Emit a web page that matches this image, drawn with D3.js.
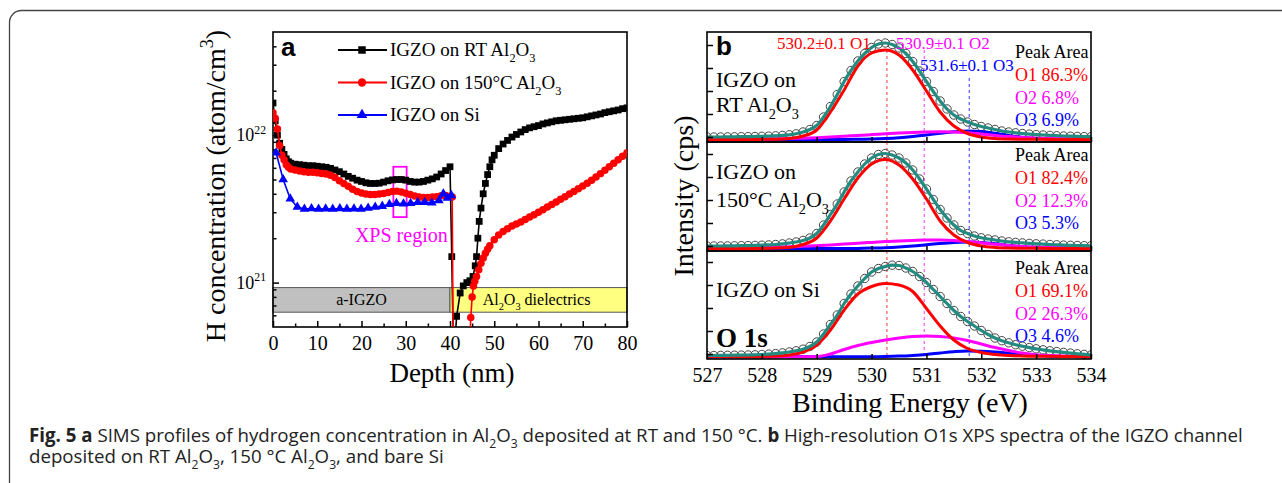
<!DOCTYPE html>
<html><head><meta charset="utf-8">
<script src="https://cdn.jsdelivr.net/npm/d3@7"></script>
<style>body{margin:0;background:#fff}svg{display:block}</style>
</head><body>
<svg id="c" width="1282" height="483"></svg>
<script>
// ================= DATA =================
// Panel a: SIMS hydrogen depth profiles
const depthRT = [0,0.5,1,1.5,2,2.5,3,3.5,4,5,6,7,8,9,10,11,12,13,14,15,16,17,18,19,20,21,22,23,24,25,26,27,28,29,30,31,32,33,34,35,36,37,38,39,40,40.4,40.8,41.5,42.3,43,43.8,44.5,45.2,45.7,46,46.3,46.6,47,47.5,48,48.5,49,49.5,50,51,52,53,54,55,56,57,58,59,60,61,62,63,64,65,66,67,68,69,70,71,72,73,74,75,76,77,78,79,80];
const concRT = [1.65e22,1.25e22,1.0e22,8.8e21,8.0e21,7.4e21,6.9e21,6.6e21,6.45e21,6.35e21,6.3e21,6.25e21,6.2e21,6.2e21,6.15e21,6.1e21,6.05e21,5.95e21,5.8e21,5.65e21,5.45e21,5.25e21,5.1e21,4.95e21,4.85e21,4.75e21,4.7e21,4.7e21,4.72e21,4.8e21,4.9e21,4.97e21,5.0e21,5.0e21,4.95e21,4.85e21,4.8e21,4.8e21,4.85e21,4.95e21,5.05e21,5.2e21,5.45e21,5.75e21,6.1e21,1.5e21,3.0e20,5.9e20,8.5e20,9.5e20,1.0e21,1.03e21,1.1e21,1.3e21,1.5e21,2.0e21,2.6e21,3.2e21,4.0e21,4.7e21,5.4e21,6.1e21,6.8e21,7.3e21,8.1e21,8.7e21,9.2e21,9.7e21,1.01e22,1.05e22,1.09e22,1.12e22,1.14e22,1.16e22,1.19e22,1.21e22,1.23e22,1.25e22,1.26e22,1.27e22,1.28e22,1.29e22,1.30e22,1.31e22,1.33e22,1.35e22,1.37e22,1.39e22,1.42e22,1.44e22,1.46e22,1.48e22,1.51e22,1.53e22];

const depth150 = [0,0.5,1,1.5,2,2.5,3,3.5,4,5,6,7,8,9,10,11,12,13,14,15,16,17,18,19,20,21,22,23,24,25,26,27,28,29,30,31,32,33,34,35,36,37,38,39,40,40.5,40.7,44.3,44.7,45,45.3,45.6,46,46.5,47,47.5,48,48.5,49,50,51,52,53,54,55,56,57,58,59,60,61,62,63,64,65,66,67,68,69,70,71,72,73,74,75,76,77,78,79,80];
const conc150 = [1.42e22,1.3e22,1.1e22,8.5e21,7.3e21,6.8e21,6.3e21,6.05e21,5.9e21,5.8e21,5.7e21,5.65e21,5.6e21,5.6e21,5.55e21,5.5e21,5.45e21,5.35e21,5.15e21,4.9e21,4.7e21,4.5e21,4.3e21,4.15e21,4.05e21,3.98e21,3.95e21,3.95e21,3.98e21,4.02e21,4.08e21,4.15e21,4.17e21,4.12e21,4.03e21,3.95e21,3.87e21,3.8e21,3.78e21,3.78e21,3.8e21,3.82e21,3.88e21,3.9e21,3.85e21,3.8e21,4.0e20,3.0e20,5.8e20,8.0e20,9.5e20,1.02e21,1.1e21,1.22e21,1.35e21,1.47e21,1.58e21,1.68e21,1.78e21,1.95e21,2.1e21,2.22e21,2.32e21,2.42e21,2.5e21,2.58e21,2.68e21,2.78e21,2.88e21,3.0e21,3.12e21,3.25e21,3.38e21,3.52e21,3.67e21,3.82e21,3.98e21,4.15e21,4.33e21,4.52e21,4.72e21,4.95e21,5.2e21,5.48e21,5.78e21,6.1e21,6.45e21,6.8e21,7.2e21,7.6e21];

const depthSi = [0.7,2.3,3.9,5.5,7.1,8.7,10.3,11.9,13.5,15.1,16.7,18.3,19.9,21.5,23.1,24.7,26.3,27.9,29.5,31.1,32.7,34.3,35.9,37.5,38.5,39.4,40.3];
const concSi = [7.6e21,5.0e21,3.7e21,3.25e21,3.15e21,3.18e21,3.15e21,3.17e21,3.15e21,3.18e21,3.15e21,3.17e21,3.15e21,3.2e21,3.25e21,3.3e21,3.4e21,3.45e21,3.42e21,3.45e21,3.5e21,3.5e21,3.48e21,3.6e21,4.0e21,3.75e21,3.9e21];

const seriesNamesA = ["IGZO on RT Al_2O_3","IGZO on 150°C Al_2O_3","IGZO on Si"];
const xTicksA = [0,10,20,30,40,50,60,70,80];
const xMinorA = [5,15,25,35,45,55,65,75];
const yTicksA = [1e21,1e22];
const yTickLabelsA = ["10^{21}","10^{22}"];
const yMinorA = [6e20,7e20,8e20,9e20,2e21,3e21,4e21,5e21,6e21,7e21,8e21,9e21,2e22,3e22,4e22];
const bandLabels = ["a-IGZO","Al_2O_3 dielectrics"];
const bandStart = [0,40];
const bandEnd = [40,80];
const bandConc = [6.3e20,9.25e20];
const xpsRegionDepth = [27.2,30.2];
const xpsRegionConc = [2.78e21,6.1e21];
const xpsRegionLabel = "XPS region";

// Panel b: O 1s XPS spectra (3 samples)
const energyData = [527,527.125,527.25,527.375,527.5,527.625,527.75,527.875,528,528.125,528.25,528.375,528.5,528.625,528.75,528.875,529,529.125,529.25,529.375,529.5,529.625,529.75,529.875,530,530.125,530.25,530.375,530.5,530.625,530.75,530.875,531,531.125,531.25,531.375,531.5,531.625,531.75,531.875,532,532.125,532.25,532.375,532.5,532.625,532.75,532.875,533,533.125,533.25,533.375,533.5,533.625,533.75,533.875,534];
const intensRT = [5.0,5.0,5.0,5.1,5.2,5.3,5.4,5.5,5.7,5.9,6.2,6.6,7.2,8.2,10.0,12.5,16.5,25.0,35.5,47.5,60.5,71.5,81.0,88.5,94.5,98.0,99.0,97.5,94.0,88.5,80.5,71.0,60.5,50.5,41.0,33.0,27.0,23.0,20.0,17.5,15.5,14.0,12.5,11.0,10.0,9.2,8.5,7.9,7.4,7.0,6.6,6.3,6.0,5.8,5.6,5.4,5.3];
const intens150 = [5.0,5.0,5.0,5.1,5.2,5.3,5.4,5.6,5.8,6.1,6.5,7.1,8.0,9.0,10.5,13.0,17.5,26.0,36.5,47.0,59.0,70.0,79.0,87.0,93.0,96.5,97.5,96.0,93.0,88.0,81.0,72.0,62.0,51.5,41.5,33.0,26.0,20.5,17.5,15.0,13.2,12.0,11.0,10.0,9.2,8.6,8.1,7.6,7.2,6.9,6.5,6.2,5.9,5.7,5.5,5.3,5.2];
const intensSi = [3.5,3.5,3.6,3.7,3.8,3.9,4.0,4.2,4.5,4.9,5.4,6.1,7.0,8.2,9.8,12.5,17.0,25.0,34.5,44.0,55.5,65.0,73.0,80.5,87.0,90.5,92.5,93.8,93.5,91.0,87.5,82.5,76.5,69.5,62.5,55.5,48.5,42.5,37.5,33.0,28.5,24.5,21.0,18.3,16.2,14.3,12.8,11.4,10.2,9.2,8.2,7.4,6.6,5.9,5.2,4.6,4.0];

const energyFit = [527,527.25,527.5,527.75,528,528.25,528.5,528.75,529,529.25,529.5,529.75,530,530.25,530.5,530.75,531,531.25,531.5,531.75,532,532.25,532.5,532.75,533,533.25,533.5,533.75,534];
const o1RT  = [2.5,2.5,2.5,2.5,2.6,2.8,3.5,6.0,12.0,30.0,52.0,76.0,89.0,92.0,87.0,72.0,51.0,30.0,16.0,8.5,5.0,3.5,3.0,2.8,2.7,2.6,2.6,2.5,2.5];
const o2RT  = [3.0,3.0,3.0,3.0,3.1,3.2,3.4,3.8,4.3,5.0,5.8,6.6,7.4,8.2,9.0,9.6,10.0,10.2,10.0,9.2,8.0,6.6,5.4,4.5,3.9,3.5,3.3,3.2,3.1];
const o3RT  = [2.5,2.5,2.5,2.5,2.5,2.5,2.5,2.5,2.5,2.5,2.5,2.7,3.0,3.5,4.3,5.5,7.0,8.7,10.2,11.0,10.5,8.8,6.6,4.8,3.6,3.0,2.7,2.6,2.5];
const o1_150 = [2.5,2.5,2.5,2.5,2.6,2.9,3.6,6.5,13.0,30.0,52.0,73.0,87.0,91.5,86.0,72.0,52.0,30.0,16.0,8.5,5.0,3.6,3.0,2.8,2.7,2.6,2.6,2.5,2.5];
const o2_150 = [3.5,3.5,3.5,3.6,3.7,3.9,4.2,4.7,5.3,6.0,6.9,7.8,8.6,9.4,10.1,10.6,11.0,11.0,10.5,9.5,8.2,6.8,5.6,4.6,4.0,3.6,3.4,3.3,3.2];
const o3_150 = [2.5,2.5,2.5,2.5,2.5,2.5,2.5,2.5,2.5,2.5,2.5,2.6,2.9,3.3,4.0,5.0,6.3,7.6,8.6,9.0,8.5,7.2,5.6,4.2,3.3,2.9,2.7,2.6,2.5];
const o1Si  = [2.5,2.5,2.5,2.5,2.6,3.0,4.0,7.0,14.0,29.0,49.0,65.0,72.5,75.5,74.0,67.5,50.5,33.0,19.0,10.5,6.5,4.5,3.5,3.0,2.8,2.7,2.6,2.5,2.5];
const o2Si  = [2.3,2.3,2.3,2.3,2.3,2.3,2.3,2.3,2.4,5.0,9.5,13.5,16.5,19.0,21.0,22.5,23.0,22.5,21.0,18.5,15.0,11.5,8.5,6.0,4.3,3.4,2.9,2.6,2.5];
const o3Si  = [2.3,2.3,2.3,2.3,2.3,2.3,2.3,2.3,2.3,2.3,2.3,2.3,2.3,2.5,2.9,3.6,4.6,6.0,7.3,8.0,7.8,7.0,5.7,4.4,3.4,2.8,2.5,2.4,2.3];

const sampleLabels = [["IGZO on","RT Al_2O_3"],["IGZO on","150°C Al_2O_3"],["IGZO on Si"]];
const peakLabels = ["530.2±0.1 O1","530.9±0.1 O2","531.6±0.1 O3"];
const peakPositions = [530.28,530.96,531.78];
const areaO1 = [86.3,82.4,69.1];
const areaO2 = [6.8,12.3,26.3];
const areaO3 = [6.9,5.3,4.6];
const xTicksB = [527,528,529,530,531,532,533,534];
const yTicksB = [5,28,51,74,97];

// ================= DRAWING =================
const svg = d3.select("#c");
const SERIF = "'Liberation Serif','Times New Roman',serif";
const SANS = "'Liberation Sans',Arial,sans-serif";

function rich(sel, str, size){
  const re = /([_^])(\{[^}]*\}|.)/g;
  let last = 0, m, shift = 0;
  const add = (txt, mode) => {
    if (!txt) return;
    const ts = sel.append("tspan").text(txt);
    const target = mode === "_" ? size*0.32 : mode === "^" ? -size*0.42 : 0;
    if (target !== shift){ ts.attr("dy", target - shift); shift = target; }
    if (mode) ts.attr("font-size", size*0.65);
  };
  while ((m = re.exec(str))){
    add(str.slice(last, m.index), null);
    let t = m[2]; if (t[0] === "{") t = t.slice(1, -1);
    add(t, m[1]);
    last = re.lastIndex;
  }
  add(str.slice(last), null);
  return sel;
}
function txt(g, x, y, str, size, opts={}){
  const t = g.append("text").attr("x",x).attr("y",y)
    .style("font-family", opts.family || SERIF).attr("font-size", size)
    .attr("fill", opts.fill || "#000")
    .attr("text-anchor", opts.anchor || "start");
  if (opts.weight) t.attr("font-weight", opts.weight);
  if (opts.rotate) t.attr("transform", `rotate(${opts.rotate},${x},${y})`);
  rich(t, str, size);
  return t;
}

// outer frame
svg.append("rect").attr("x",9.5).attr("y",10.5).attr("width",1300).attr("height",500)
  .attr("rx",12).attr("fill","none").attr("stroke","#444").attr("stroke-width",1.3);

// ---------- Panel a ----------
const A = {l:273, r:627, t:32, b:327};
const xa = d3.scaleLinear().domain([0,80]).range([A.l, A.r]);
const ya = d3.scaleLog().domain([5e20,5e22]).range([A.b, A.t]);
const ga = svg.append("g");
ga.append("clipPath").attr("id","clipA").append("rect")
  .attr("x",A.l).attr("y",A.t).attr("width",A.r-A.l).attr("height",A.b-A.t);

const bandFill = ["#c0c0c0","#ffff80"];
bandLabels.forEach((lab,i)=>{
  ga.append("rect").attr("x",xa(bandStart[i])).attr("width",xa(bandEnd[i])-xa(bandStart[i]))
    .attr("y",ya(bandConc[1])).attr("height",ya(bandConc[0])-ya(bandConc[1]))
    .attr("fill",bandFill[i]).attr("stroke","#555").attr("stroke-width",1);
  txt(ga,(xa(bandStart[i])+xa(bandEnd[i]))/2 + (i?-2:0),(ya(bandConc[0])+ya(bandConc[1]))/2+5,lab,16,{anchor:"middle"});
});

const dataA = svg.append("g").attr("clip-path","url(#clipA)");
const seriesA = [
  {x:depthRT, y:concRT, color:"#000", sym:d3.symbolSquare, size:46},
  {x:depth150, y:conc150, color:"#ff0000", sym:d3.symbolCircle, size:44},
  {x:depthSi, y:concSi, color:"#0000ff", sym:d3.symbolTriangle, size:40}
];
seriesA.forEach(s=>{
  const pts = s.x.map((d,i)=>[d,s.y[i]]);
  dataA.append("path").datum(pts)
    .attr("d", d3.line().x(d=>xa(d[0])).y(d=>ya(d[1])))
    .attr("fill","none").attr("stroke",s.color).attr("stroke-width",1.6);
  dataA.selectAll(null).data(pts).enter().append("path")
    .attr("transform",d=>`translate(${xa(d[0])},${ya(d[1])})`)
    .attr("d", d3.symbol().type(s.sym).size(s.size)).attr("fill",s.color);
});

// XPS region box
ga.append("rect").attr("x",xa(xpsRegionDepth[0])).attr("width",xa(xpsRegionDepth[1])-xa(xpsRegionDepth[0]))
  .attr("y",ya(xpsRegionConc[1])).attr("height",ya(xpsRegionConc[0])-ya(xpsRegionConc[1]))
  .attr("fill","none").attr("stroke","#ff00ff").attr("stroke-width",1.8);
txt(ga, xa(29), 242, xpsRegionLabel, 20, {anchor:"middle", fill:"#ff00ff"});

// axes a
const axA = ga.append("g").attr("transform",`translate(0,${A.b})`)
  .call(d3.axisBottom(xa).tickValues(xTicksA).tickSizeInner(-6).tickSizeOuter(0).tickPadding(9));
axA.attr("font-family",null);
axA.selectAll("text").style("font-family",SERIF).attr("font-size",20).attr("fill","#000").attr("dy","0.72em");
ga.append("g").attr("transform",`translate(0,${A.b})`)
  .call(d3.axisBottom(xa).tickValues(xMinorA).tickSizeInner(-3.5).tickSizeOuter(0).tickFormat(""));
ga.append("g").attr("transform",`translate(${A.l},0)`)
  .call(d3.axisLeft(ya).tickValues(yTicksA).tickSizeInner(-6).tickSizeOuter(0).tickFormat(""));
ga.append("g").attr("transform",`translate(${A.l},0)`)
  .call(d3.axisLeft(ya).tickValues(yMinorA).tickSizeInner(-3.5).tickSizeOuter(0).tickFormat(""));
ga.selectAll(".domain").remove();
ga.selectAll(".tick line").attr("stroke","#000").attr("stroke-width",1.5);
yTicksA.forEach((v,i)=>{ txt(ga, 266, ya(v)+6, yTickLabelsA[i], 18, {anchor:"end"}); });
ga.append("rect").attr("x",A.l).attr("y",A.t).attr("width",A.r-A.l).attr("height",A.b-A.t)
  .attr("fill","none").attr("stroke","#000").attr("stroke-width",1.6);

// legend a
seriesA.forEach((s,i)=>{
  const ly = 50 + i*32.5;
  ga.append("line").attr("x1",338).attr("x2",387).attr("y1",ly).attr("y2",ly).attr("stroke",s.color).attr("stroke-width",2);
  ga.append("path").attr("transform",`translate(362,${ly})`).attr("d",d3.symbol().type(s.sym).size(s.size+10)).attr("fill",s.color);
  txt(ga, 390, ly+6, seriesNamesA[i], 19);
});
txt(ga, 281, 56, "a", 26, {family:SANS, weight:"bold"});
txt(ga, 452, 382, "Depth (nm)", 27, {anchor:"middle"});
txt(ga, 225, 186, "H concentration (atom/cm^3)", 28, {anchor:"middle", rotate:-90});

// ---------- Panel b ----------
const B = {l:707, r:1091};
const subs = [{t:32,b:142},{t:142,b:251},{t:251,b:359}];
const xb = d3.scaleLinear().domain([527,534]).range([B.l,B.r]);
const gb = svg.append("g");
const dataSets = [intensRT, intens150, intensSi];
const comps = [[o1RT,o2RT,o3RT],[o1_150,o2_150,o3_150],[o1Si,o2Si,o3Si]];
const compColors = ["#ff0000","#ff00ff","#0000ff"];
const dashStart = [50,50,78];
subs.forEach((s,i)=>{
  const yb = d3.scaleLinear().domain([0,110]).range([s.b, s.b-110]);
  const cid = "clipB"+i;
  gb.append("clipPath").attr("id",cid).append("rect").attr("x",B.l).attr("y",s.t).attr("width",B.r-B.l).attr("height",s.b-s.t);
  const g = gb.append("g").attr("clip-path",`url(#${cid})`);
  peakPositions.forEach((p,k)=>{
    g.append("line").attr("x1",xb(p)).attr("x2",xb(p)).attr("y1", i===0?dashStart[k]:s.t).attr("y2",s.b)
      .attr("stroke",compColors[k]).attr("stroke-width",1).attr("stroke-dasharray","3,3").attr("opacity",0.8);
  });
  const dat = energyData.map((e,j)=>[e,dataSets[i][j]]);
  g.selectAll(null).data(dat).enter().append("circle")
    .attr("cx",d=>xb(d[0])).attr("cy",d=>yb(d[1])).attr("r",4.2)
    .attr("fill","none").attr("stroke","#444").attr("stroke-width",1);
  const ln = d3.line().x(d=>xb(d[0])).y(d=>yb(d[1])).curve(d3.curveMonotoneX);
  [2,1,0].forEach(k=>{
    g.append("path").datum(energyFit.map((e,j)=>[e,comps[i][k][j]])).attr("d",ln)
      .attr("fill","none").attr("stroke",compColors[k]).attr("stroke-width",3);
  });
  g.append("path").datum(dat).attr("d",ln).attr("fill","none").attr("stroke","#238b80").attr("stroke-width",3.2);
  // ticks
  const tx = gb.append("g").attr("transform",`translate(0,${s.b})`)
    .call(d3.axisBottom(xb).tickValues(xTicksB).tickSizeInner(-5).tickSizeOuter(0).tickPadding(9)
      .tickFormat(i===2? d3.format("d") : ""));
  tx.attr("font-family",null);
  tx.selectAll("text").style("font-family",SERIF).attr("font-size",20).attr("fill","#000").attr("dy","0.72em");
  gb.append("g").attr("transform",`translate(${B.l},0)`)
    .call(d3.axisLeft(yb).tickValues(yTicksB).tickSizeInner(-6).tickSizeOuter(0).tickFormat(""));
  gb.selectAll(".domain").remove();
  gb.selectAll(".tick line").attr("stroke","#000").attr("stroke-width",1.5);
  gb.append("rect").attr("x",B.l).attr("y",s.t).attr("width",B.r-B.l).attr("height",s.b-s.t)
    .attr("fill","none").attr("stroke","#000").attr("stroke-width",1.6);
});
// sample labels
txt(gb, 716, 87, sampleLabels[0][0], 22); txt(gb, 716, 112, sampleLabels[0][1], 22);
txt(gb, 716, 179, sampleLabels[1][0], 22); txt(gb, 716, 207, sampleLabels[1][1], 22);
txt(gb, 716, 297, sampleLabels[2][0], 22);
txt(gb, 716, 347, "O 1s", 27, {weight:"bold"});
// peak position labels
txt(gb, 777, 49, peakLabels[0], 17, {fill:"#ff0000"});
txt(gb, 896, 49, peakLabels[1], 17, {fill:"#ff00ff"});
txt(gb, 920, 71, peakLabels[2], 17, {fill:"#0000ff"});
// peak areas
const areaTop = [58,161,274];
subs.forEach((s,i)=>{
  const y0 = areaTop[i];
  txt(gb, 1015, y0, "Peak Area", 18);
  txt(gb, 1015, y0+23, "O1 "+areaO1[i].toFixed(1)+"%", 18, {fill:"#ff0000"});
  txt(gb, 1015, y0+45.5, "O2 "+areaO2[i].toFixed(1)+"%", 18, {fill:"#ff00ff"});
  txt(gb, 1015, y0+68, "O3 "+areaO3[i].toFixed(1)+"%", 18, {fill:"#0000ff"});
});
txt(gb, 716, 55, "b", 26, {family:SANS, weight:"bold"});
txt(gb, 910, 412, "Binding Energy (eV)", 28, {anchor:"middle"});
txt(gb, 693, 196, "Intensity (cps)", 28, {anchor:"middle", rotate:-90});

// ---------- Caption ----------
const CAPF = "'Open Sans','Noto Sans',sans-serif";
function captionLine(y, parts, fs){
  const t = svg.append("text").attr("x",29).attr("y",y).style("font-family",CAPF).attr("font-size",fs).attr("fill","#222");
  parts.forEach(p=>{ const ts = t.append("tspan"); if (p[1]) ts.attr("font-weight","bold"); rich(ts, p[0], fs); });
  return t;
}
const cap1Parts = [["Fig. 5 a",true],[" SIMS profiles of hydrogen concentration in Al_2O_3 deposited at RT and 150 °C. ",false],["b",true],[" High-resolution O1s XPS spectra of the IGZO channel",false]];
const cap2Parts = [["deposited on RT Al_2O_3, 150 °C Al_2O_3, and bare Si",false]];
let l1 = captionLine(442, cap1Parts, 18);
const fs = 18 * 1214 / l1.node().getComputedTextLength();
l1.remove();
captionLine(442, cap1Parts, fs);
captionLine(463, cap2Parts, fs);
</script>
</body></html>
